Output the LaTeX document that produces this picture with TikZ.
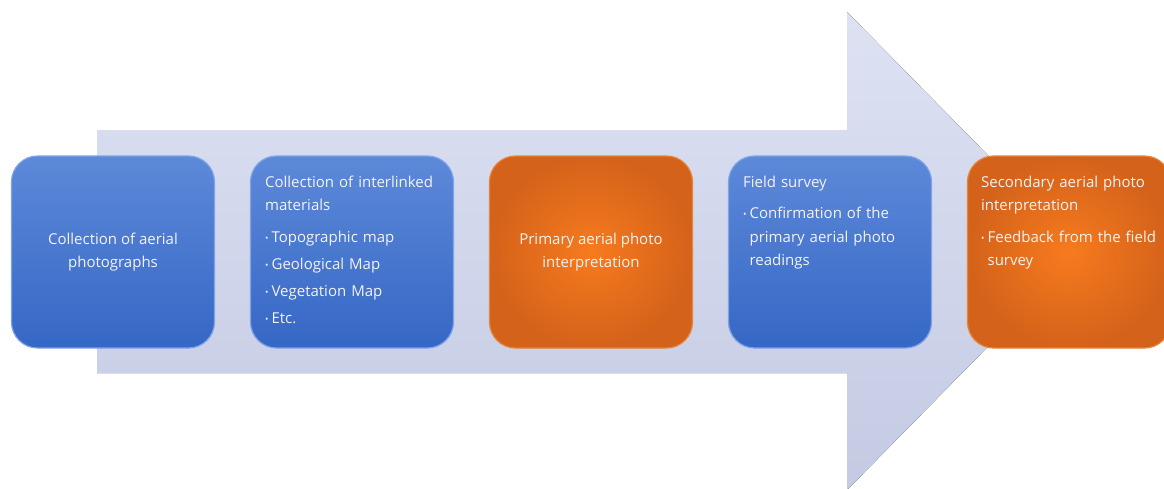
\documentclass[tikz,border=0pt]{standalone}
\usepackage{fontspec}
\setmainfont{Open Sans}
\usetikzlibrary{calc}
\definecolor{arrT}{HTML}{DDE2F3}
\definecolor{arrB}{HTML}{C4CAE3}
\definecolor{blueT}{HTML}{5D89D9}
\definecolor{blueB}{HTML}{3567C5}
\definecolor{blueEdge}{HTML}{7FA3E6}
\definecolor{orIn}{HTML}{F77A1E}
\definecolor{orOut}{HTML}{D4621A}
\definecolor{orEdge}{HTML}{E48538}
\definecolor{txt}{HTML}{F3F3F3}
\newcommand{\bul}{\makebox[6.5pt][l]{\fontsize{9}{9}\selectfont\raisebox{1pt}{•}}}
\newcommand{\ind}{\hspace*{6.5pt}}
\begin{document}
\begin{tikzpicture}[x=1pt,y=-1pt,
  stepbox/.style={rounded corners=26pt, minimum width=203pt, minimum height=192pt, inner sep=0pt, line width=1.2pt},
  bluebox/.style={stepbox, top color=blueT, bottom color=blueB, draw=blueEdge},
  orangebox/.style={stepbox, inner color=orIn, outer color=orOut, draw=orEdge},
  lbl/.style={text=txt, font=\fontsize{15}{23.5}\selectfont, inner sep=0pt},
  lblL/.style={lbl, align=left, text width=200pt, anchor=north west},
]
\useasboundingbox (0,0) rectangle (1164,488);
\clip (0,0) rectangle (1164,488);
\fill[top color=arrT, bottom color=arrB] (97,130) -- (847,130) -- (847,12) -- (1082,251) -- (847,490) -- (847,373) -- (97,373) -- cycle;

\node[bluebox]   (b1) at (113,252)  {};
\node[bluebox]   (b2) at (352,252)  {};
\node[orangebox] (b3) at (591,252)  {};
\node[bluebox]   (b4) at (830,252)  {};
\node[orangebox] (b5) at (1069,252) {};

\node[lbl, align=center] (t1) at (b1.center) {Collection of aerial\\photographs};
\node[lbl, align=center] (t3) at (b3.center) {Primary aerial photo\\interpretation};
\node[lblL] (t2) at ($(b2.north west)+(15,20)$) {Collection of interlinked\\materials\\[8pt]\bul Topographic map\\[3.5pt]\bul Geological Map\\[3.5pt]\bul Vegetation Map\\[3.5pt]\bul Etc.};
\node[lblL] (t4) at ($(b4.north west)+(15,20)$) {Field survey\\[8pt]\bul Confirmation of the\\\ind primary aerial photo\\\ind readings};
\node[lblL] (t5) at ($(b5.north west)+(14,20)$) {Secondary aerial photo\\interpretation\\[8pt]\bul Feedback from the field\\\ind survey};
\end{tikzpicture}
\end{document}
